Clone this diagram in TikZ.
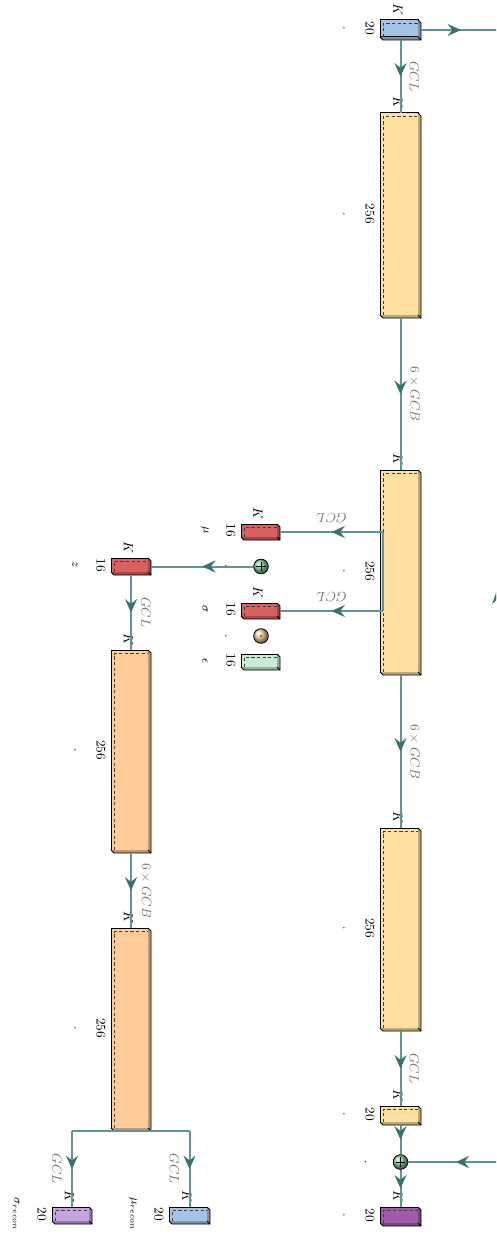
\documentclass[tikz,border=0pt]{standalone}
\usetikzlibrary{arrows.meta,decorations.markings,calc,shadings}
\definecolor{lineC}{RGB}{98,148,148}
\definecolor{headC}{RGB}{60,112,112}
\definecolor{cBlue}{RGB}{163,194,228}
\definecolor{cYellow}{RGB}{255,224,160}
\definecolor{cOrange}{RGB}{255,204,153}
\definecolor{cRed}{RGB}{216,96,96}
\definecolor{cMint}{RGB}{200,236,214}
\definecolor{cPurple}{RGB}{160,92,170}
\definecolor{cLilac}{RGB}{198,166,224}
\definecolor{cSum}{RGB}{130,215,155}
\definecolor{cMul}{RGB}{240,210,155}
\tikzset{
  boxfront/.style={draw=black, line width=0.75pt, inner sep=0pt, outer sep=0pt},
  boxedge/.style={draw=black, line width=0.6pt},
  connline/.style={draw=lineC, line width=1.5pt},
  arr/.style={connline, postaction={decorate}, decoration={markings, mark=at position 0.5 with {\arrow{Stealth[length=10pt,width=9pt,inset=3.5pt,color=headC]}}}},
  rot/.style={rotate=-90, inner sep=0pt},
  klab/.style={rot},
  numlab/.style={rot},
  caplab/.style={rot, font=\small},
  lbl/.style={rot, text=black!55},
  lblflip/.style={rotate=180, inner sep=0pt, text=black!55},
  opnode/.style={circle, draw=black, line width=0.6pt, minimum size=11pt, inner sep=0pt},
  plussign/.style={path picture={\draw[line width=0.5pt] ([xshift=-3.5pt]path picture bounding box.center) -- ([xshift=3.5pt]path picture bounding box.center); \draw[line width=0.5pt] ([yshift=-3.5pt]path picture bounding box.center) -- ([yshift=3.5pt]path picture bounding box.center);}},
  dotsign/.style={path picture={\fill (path picture bounding box.center) circle (0.6pt);}},
}
% name, cx, cy, w, h, colour
\newcommand{\cuboid}[6]{%
  \node[boxfront, fill=#6, minimum width={#4*0.75pt}, minimum height={#5*0.75pt}] (#1) at (#2,#3) {};
  \fill[#6!75!black] (#1.north east) -- ++(3,3) -- ([shift={(3,3)}]#1.south east) -- ([shift={(3,3)}]#1.south west) -- (#1.south west) -- (#1.south east) -- cycle;
  \draw[boxedge] (#1.north east) -- ++(3,3) -- ([shift={(3,3)}]#1.south east) -- ([shift={(3,3)}]#1.south west) -- (#1.south west);
  \draw[boxedge] (#1.south east) -- ++(3,3);
  \draw[boxedge, draw=black!75, line width=0.5pt, dash pattern=on 2.4pt off 1.8pt] ([shift={(3,0)}]#1.south west) -- ([shift={(3,3.5)}]#1.north west) -- ([shift={(0,3.5)}]#1.north east);
  \coordinate (#1-n) at ([shift={(1.5,0)}]#1.north);
  \coordinate (#1-s) at ([shift={(1.5,3)}]#1.south);
  \coordinate (#1-e) at ([shift={(3,1.5)}]#1.east);
  \coordinate (#1-w) at ([shift={(0,1.5)}]#1.west);
}
\newcommand{\klabel}[1]{\node[klab] (#1k) at ([shift={(-1,-10)}]#1.north) {$K$};}
\newcommand{\nlabel}[2]{\node[numlab] (#1num) at ([shift={(-10,0)}]#1.west) {#2};}
\newcommand{\clabel}[2]{\node[caplab] (#1cap) at ([shift={(-36,0)}]#1.west) {#2};}
\begin{document}
\begin{tikzpicture}[x=0.75pt, y=-0.75pt]
\useasboundingbox (0,0) rectangle (496,1234);
\clip (0,0) rectangle (496,1234);

% boxes
\cuboid{A}{399}{28.5}{38}{17}{cBlue}
\cuboid{B}{399}{214}{38}{202}{cYellow}
\cuboid{C}{399}{571}{38}{202}{cYellow}
\cuboid{F}{399}{928}{38}{200}{cYellow}
\cuboid{G}{399}{1114}{38}{16}{cYellow}
\cuboid{H}{399}{1215}{38}{16}{cPurple}
\cuboid{mu}{259}{530.5}{36}{13}{cRed}
\cuboid{sigma}{259}{609.5}{36}{13}{cRed}
\cuboid{eps}{259}{660.5}{36}{13}{cMint}
\cuboid{z}{129.5}{565}{37}{14}{cRed}
\cuboid{D}{129.5}{750}{37}{200}{cOrange}
\cuboid{E}{129.5}{1028}{37}{200}{cOrange}
\cuboid{sr}{70.5}{1214}{37}{14}{cLilac}
\cuboid{mr}{188}{1214}{38}{14}{cBlue}

% operation nodes
\node[opnode, ball color=cSum, plussign] (plus1) at (261,566.5) {};
\node[opnode, ball color=cMul, dotsign] (mul) at (261,636) {};
\node[opnode, ball color=cSum, plussign] (plus2) at (400.5,1162) {};

% labels
\foreach \b in {A,B,C,F,G,H,mu,sigma,z,D,E,sr,mr} {\klabel{\b}}
\nlabel{A}{20}\nlabel{B}{256}\nlabel{C}{256}\nlabel{F}{256}\nlabel{G}{20}\nlabel{H}{20}
\nlabel{mu}{16}\nlabel{sigma}{16}\nlabel{eps}{16}\nlabel{z}{16}
\nlabel{D}{256}\nlabel{E}{256}\nlabel{sr}{20}\nlabel{mr}{20}
\clabel{A}{.}\clabel{B}{.}\clabel{C}{.}\clabel{F}{.}\clabel{G}{.}\clabel{H}{.}
\clabel{D}{.}\clabel{E}{.}
\clabel{mu}{$\mu$}\clabel{sigma}{$\sigma$}\clabel{eps}{$\epsilon$}\clabel{z}{$z$}
\clabel{sr}{$\sigma_{recon}$}\clabel{mr}{$\mu_{recon}$}
\node[caplab] (plus1cap) at ([shift={(-35,0)}]plus1.center) {.};
\node[caplab] (mulcap) at ([shift={(-35,0)}]mul.center) {.};
\node[caplab] (plus2cap) at ([shift={(-35,0)}]plus2.center) {.};

% connectors
\coordinate (outA) at ($(A-e)+(80,0)$);
\draw[arr] (A-e) -- (outA);
\draw[arr] (A-s) -- (B-n);
\node[lbl] (l1) at ($(A-s)!0.5!(B-n)+(14,0)$) {$GCL$};
\draw[arr] (B-s) -- (C-n);
\node[lbl] (l2) at ($(B-s)!0.5!(C-n)+(14,0)$) {$6\times GCB$};
\draw[arr] (C-s) -- (F-n);
\node[lbl] (l3) at ($(C-s)!0.5!(F-n)+(14,0)$) {$6\times GCB$};
\draw[arr] (F-s) -- (G-n);
\node[lbl] (l4) at ($(F-s)!0.5!(G-n)+(14,0)$) {$GCL$};
\draw[arr] (G-s) -- (plus2.north);
\draw[arr] (plus2.south) -- (H-n);
\coordinate (inR) at ($(plus2.east)+(95,0)$);
\draw[arr] (inR) -- (plus2.east);

\coordinate (cs) at ([shift={(3,0)}]C.west |- mu-e);
\draw[connline] (cs) -- (cs |- sigma-e);
\draw[arr] (cs) -- (mu-e);
\node[lblflip] (l5) at ($(cs)!0.5!(mu-e)+(0,-14)$) {$GCL$};
\draw[arr] (cs |- sigma-e) -- (sigma-e);
\node[lblflip] (l6) at ($(cs |- sigma-e)!0.5!(sigma-e)+(0,-14)$) {$GCL$};

\draw[arr] (plus1.west) -- (z-e);
\draw[arr] (z-s) -- (D-n);
\node[lbl] (l7) at ($(z-s)!0.5!(D-n)+(15,0)$) {$GCL$};
\draw[arr] (D-s) -- (E-n);
\node[lbl] (l8) at ($(D-s)!0.5!(E-n)+(15,0)$) {$6\times GCB$};

\coordinate (eb) at (E-s);
\draw[connline] (sr-n |- eb) -- (mr-n |- eb);
\draw[arr] (sr-n |- eb) -- (sr-n);
\node[lbl] (l9) at ($(sr-n |- eb)!0.5!(sr-n)+(-15,0)$) {$GCL$};
\draw[arr] (mr-n |- eb) -- (mr-n);
\node[lbl] (l10) at ($(mr-n |- eb)!0.5!(mr-n)+(-15,0)$) {$GCL$};

% arrow entering from outside the frame
\coordinate (offS) at (506,690);
\coordinate (offT) at (497,590);
\draw[connline, -{Stealth[length=10pt,width=9pt,inset=3.5pt,color=headC]}] (offS) -- (offT);
\end{tikzpicture}
\end{document}
